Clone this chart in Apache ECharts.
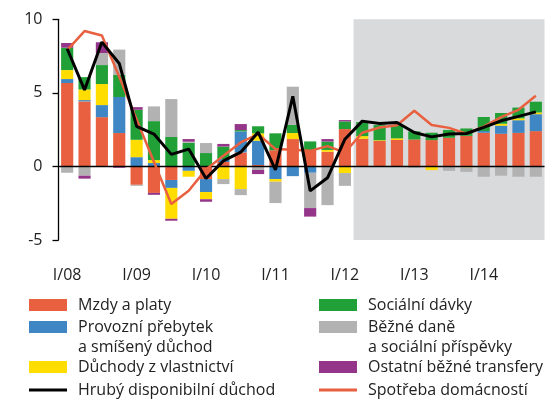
<!DOCTYPE html>
<html>
<head>
<meta charset="utf-8">
<script src="https://cdn.jsdelivr.net/npm/echarts@6/dist/echarts.min.js"></script>
<style>
  html, body { margin: 0; padding: 0; background: #fff; }
  #chart { width: 553px; height: 401px; }
</style>
</head>
<body>
<div id="chart"></div>
<script>
// quarters I/08 .. IV/14, forecast shaded from II/12
const quarters = ['I/08','II/08','III/08','IV/08','I/09','II/09','III/09','IV/09',
  'I/10','II/10','III/10','IV/10','I/11','II/11','III/11','IV/11',
  'I/12','II/12','III/12','IV/12','I/13','II/13','III/13','IV/13',
  'I/14','II/14','III/14','IV/14'];
const forecastFrom = 'II/12';
const yTicks = [-5, 0, 5, 10];

// contributions (p.b.)
const mzdy      = [5.67, 4.42, 3.35, 2.27, -1.25, -1.8, -0.92, 0, -0.86, 0.3, 0.95, 0.1, 1.1, 1.86, 1.1, 1.0,
                   2.54, 1.88, 1.73, 1.8, 1.83, 1.79, 1.95, 2.08, 2.29, 2.22, 2.28, 2.4];
const provozni  = [0.27, 0.09, 0.82, 2.45, 0.63, 0.23, -0.54, -0.3, -0.88, 0.2, 1.43, 1.65, -0.86, -0.66, -0.43, 0,
                   0, 0, 0, 0, 0, 0, 0, 0, 0.12, 0.55, 0.86, 1.15];
const vlastnictvi = [0.61, 0.72, 1.43, 0, 1.18, 0.2, -2.1, -0.4, -0.49, -0.86, -1.54, 0.5, -0.18, 0.41, 0, 0.12,
                   -0.45, 0.18, 0.05, 0.11, 0, -0.25, 0, -0.07, 0, 0.13, 0.13, 0.12];
const socialni  = [1.52, 0.84, 1.29, 1.5, 2.04, 2.65, 2.0, 1.6, 0.91, 0.85, 0.09, 0.48, 1.15, 0.55, 0.6, 0.57,
                   0.52, 0.95, 1.03, 0.9, 0.55, 0.5, 0.53, 0.5, 0.95, 0.73, 0.73, 0.73];
const dane      = [-0.43, -0.63, 0.82, 1.72, -0.07, 1.0, 2.58, 0.08, 0.68, -0.34, -0.41, -0.24, -1.45, 2.6, -2.4, -2.63,
                   -0.87, 0, 0, 0, -0.09, 0, -0.3, -0.3, -0.7, -0.63, -0.7, -0.7];
const transfery = [0.32, -0.2, 0.73, -0.09, 0.18, -0.13, -0.13, 0.18, -0.17, 0.18, 0.41, -0.28, 0, 0, -0.58, 0.17,
                   0.09, 0, 0, 0, 0, 0, 0, 0, 0, 0, 0, 0];
// lines (%)
const hrubyDuchod = [8.0, 5.2, 8.45, 7.0, 2.72, 2.2, 0.82, 1.18, -0.82, 0.38, 0.97, 2.33, -0.24, 4.77, -1.66, -0.77,
                   1.85, 3.08, 2.92, 2.99, 2.31, 2.01, 2.2, 2.24, 2.65, 3.1, 3.4, 3.71];
const spotreba  = [7.9, 9.2, 8.9, 6.1, 3.2, 0.3, -2.55, -1.65, -0.2, 0.72, 1.63, 2.2, 1.18, 1.13, 1.06, 1.38,
                   0.95, 2.29, 2.65, 2.8, 3.78, 2.82, 2.62, 2.22, 2.7, 3.35, 3.85, 4.8];

const bars = [
  { name: 'Mzdy a platy', data: mzdy, color: '#e8603f' },
  { name: 'Provozní přebytek\na smíšený důchod', data: provozni, color: '#3f87c4' },
  { name: 'Důchody z vlastnictví', data: vlastnictvi, color: '#ffdd00' },
  { name: 'Sociální dávky', data: socialni, color: '#21a038' },
  { name: 'Běžné daně\na sociální příspěvky', data: dane, color: '#b2b2b2' },
  { name: 'Ostatní běžné transfery', data: transfery, color: '#94358a' }
];
const lines = [
  { name: 'Spotřeba domácností', data: spotreba, color: '#e8603f', width: 2.5 },
  { name: 'Hrubý disponibilní důchod', data: hrubyDuchod, color: '#000', width: 3 }
];

// legend slots: two columns, tops chosen so icons match the original
const legendSlots = [
  { name: 'Mzdy a platy', left: 29, top: 295, kind: 'box' },
  { name: 'Provozní přebytek\na smíšený důchod', left: 29, top: 317, kind: 'box2' },
  { name: 'Důchody z vlastnictví', left: 29, top: 357, kind: 'box' },
  { name: 'Hrubý disponibilní důchod', left: 29, top: 380, kind: 'line' },
  { name: 'Sociální dávky', left: 319, top: 295, kind: 'box' },
  { name: 'Běžné daně\na sociální příspěvky', left: 319, top: 317, kind: 'box2' },
  { name: 'Ostatní běžné transfery', left: 319, top: 357, kind: 'box' },
  { name: 'Spotřeba domácností', left: 319, top: 380, kind: 'line' }
];

const font = '"Open Sans", "Noto Sans", sans-serif';
const textColor = '#222';

const legends = legendSlots.map(s => {
  const item = { name: s.name, icon: 'rect' };
  let h = 12;
  if (s.kind === 'line') h = 3;
  if (s.kind === 'box2') {
    // box sits on the first of the two text lines
    h = 32;
    item.icon = 'path://M0,0h38v12h-38z M0,32h38';
  }
  return {
    left: s.left, top: s.top, padding: 0,
    orient: 'vertical',
    itemWidth: 38, itemHeight: h,
    selectedMode: false,
    data: [item],
    textStyle: { fontFamily: font, fontSize: 16, color: textColor, lineHeight: 20, padding: [0, 0, 0, 6] }
  };
});

const shadeStart = quarters.indexOf(forecastFrom);

const series = [{
  // forecast band on the hidden value x axis
  name: 'forecast', type: 'line', xAxisIndex: 1, silent: true, z: 0,
  data: [[shadeStart, 0], [quarters.length, 0]], symbol: 'none', lineStyle: { opacity: 0 },
  markArea: { silent: true, itemStyle: { color: '#d9dadc' },
    data: [[{ xAxis: shadeStart }, { xAxis: quarters.length }]] }
}].concat(bars.map(b => ({
  name: b.name, type: 'bar', stack: 'ctb', data: b.data,
  barWidth: '70%', itemStyle: { color: b.color }, z: 2
}))).concat([{
  // zero line across the whole plot, above the bars
  name: 'zero', type: 'line', xAxisIndex: 1, silent: true, z: 3,
  data: [[0, 0], [quarters.length, 0]], symbol: 'none',
  lineStyle: { color: '#000', width: 1.5 }
}]).concat(lines.map(l => ({
  name: l.name, type: 'line', data: l.data, symbol: 'none',
  lineStyle: { color: l.color, width: l.width }, itemStyle: { color: l.color }, z: 5
})));

const chart = echarts.init(document.getElementById('chart'));
chart.setOption({
  animation: false,
  legend: legends,
  grid: { left: 58.5, right: 8.5, top: 19.3, bottom: 161 },
  xAxis: [
    { type: 'category', data: quarters, axisLine: { show: false, onZero: false }, axisTick: { show: false },
      axisLabel: { interval: 3, margin: 27, fontFamily: font, fontSize: 16, color: textColor } },
    { type: 'value', min: 0, max: quarters.length, show: false }
  ],
  yAxis: {
    type: 'value', min: yTicks[0], max: yTicks[yTicks.length - 1], interval: yTicks[1] - yTicks[0],
    splitLine: { show: false },
    axisLine: { show: true, lineStyle: { color: '#000', width: 1.3 } },
    axisTick: { show: true, length: 6, lineStyle: { color: '#000', width: 1.3 } },
    axisLabel: { margin: 16, fontFamily: font, fontSize: 16, color: textColor }
  },
  series: series
});
</script>
</body>
</html>
